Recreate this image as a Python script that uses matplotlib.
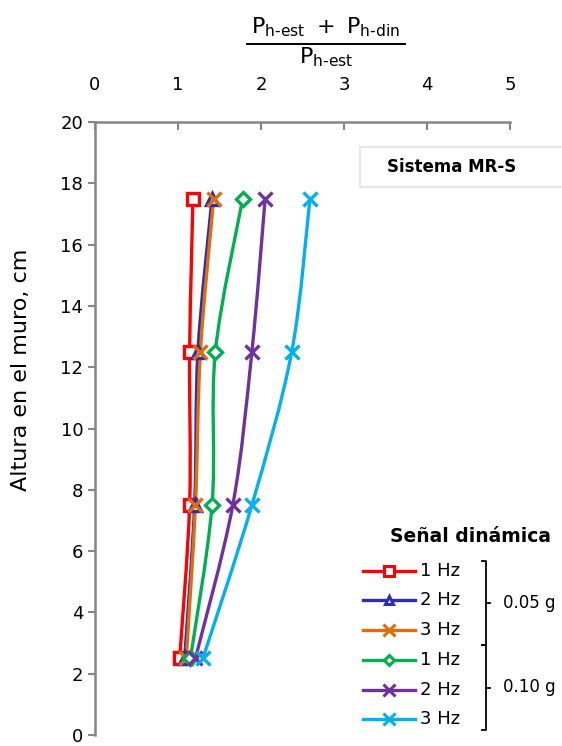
import numpy as np
import matplotlib
matplotlib.use("Agg")
import matplotlib.pyplot as plt
from matplotlib.path import Path
from matplotlib.patches import PathPatch, Rectangle
from matplotlib.lines import Line2D

heights = [2.5, 7.5, 12.5, 17.5]
r_005_1hz = [1.02, 1.14, 1.14, 1.18]
r_005_2hz = [1.08, 1.20, 1.24, 1.41]
r_005_3hz = [1.10, 1.21, 1.27, 1.43]
r_010_1hz = [1.15, 1.41, 1.45, 1.78]
r_010_2hz = [1.21, 1.66, 1.89, 2.05]
r_010_3hz = [1.30, 1.89, 2.37, 2.59]

freq_labels = ["1 Hz", "2 Hz", "3 Hz", "1 Hz", "2 Hz", "3 Hz"]
group_labels = ["0.05 g", "0.10 g"]
x_ticks = [0, 1, 2, 3, 4, 5]
y_ticks = [0, 2, 4, 6, 8, 10, 12, 14, 16, 18, 20]

series = [r_005_1hz, r_005_2hz, r_005_3hz, r_010_1hz, r_010_2hz, r_010_3hz]
colors = ["#FF0000", "#2E2EB4", "#E36C0A", "#00B050", "#7030A0", "#00B0F0"]
markers = ["s", "^", "x", "D", "x", "x"]
msizes = [9, 8, 10, 7, 10, 10]
mfcs = ["white", "white", "none", "white", "none", "none"]

W, H = 562, 746
fig = plt.figure(figsize=(W / 100, H / 100), dpi=100)
ax = fig.add_axes([95 / W, 1 - 735 / H, (510 - 95) / W, (735 - 122) / H])


def smooth_path(xs, ys):
    # Excel-like smoothed line (Catmull-Rom as cubic Bezier) through the data
    pts = np.column_stack([xs, ys]).astype(float)
    n = len(pts)
    verts = [pts[0]]
    codes = [Path.MOVETO]
    for i in range(n - 1):
        p0 = pts[i - 1] if i > 0 else pts[i]
        p1 = pts[i]
        p2 = pts[i + 1]
        p3 = pts[i + 2] if i + 2 < n else pts[i + 1]
        c1 = p1 + (p2 - p0) / 6.0
        c2 = p2 - (p3 - p1) / 6.0
        verts += [c1, c2, p2]
        codes += [Path.CURVE4] * 3
    return Path(verts, codes)


for vals, c, m, ms, fc in zip(series, colors, markers, msizes, mfcs):
    patch = PathPatch(smooth_path(vals, heights), facecolor="none", edgecolor=c, lw=2.4, zorder=2)
    ax.add_patch(patch)
    ax.plot(vals, heights, linestyle="none", marker=m, markersize=ms, markeredgewidth=2.4,
            markeredgecolor=c, markerfacecolor=fc, color=c, zorder=3)

ax.set_xlim(0, 5)
ax.set_ylim(0, 20)
ax.xaxis.tick_top()
ax.set_xticks(x_ticks)
ax.set_yticks(y_ticks)
ax.spines["right"].set_visible(False)
ax.spines["bottom"].set_visible(False)
for s in ["top", "left"]:
    ax.spines[s].set_color("#868686")
    ax.spines[s].set_linewidth(1.8)
ax.tick_params(axis="x", direction="in", length=6, width=1.5, color="#868686", labelsize=13,
               pad=20)
ax.tick_params(axis="y", direction="out", length=5, width=1.5, color="#868686", labelsize=13)
ax.set_ylabel("Altura en el muro, cm", fontsize=16)
ax.yaxis.set_label_coords(-0.155, 0.595)

# x-axis label as a fraction
fig.text(326 / W, 1 - 27 / H, r"$\mathregular{P_{h‐est}\ +\ P_{h‐din}}$", ha="center", va="center", fontsize=16)
fig.add_artist(Line2D([247 / W, 405 / W], [1 - 44 / H, 1 - 44 / H], color="black", lw=1.4))
fig.text(326 / W, 1 - 57 / H, r"$\mathregular{P_{h‐est}}$", ha="center", va="center", fontsize=16)

# "Sistema MR-S" box
fig.add_artist(Rectangle((360 / W, 1 - 187 / H), 210 / W, 40 / H, transform=fig.transFigure,
                         facecolor="white", edgecolor="#E3E3E3", lw=1.2))
fig.text(452 / W, 1 - 167 / H, "Sistema MR-S", ha="center", va="center", fontsize=12,
         fontweight="bold")

# legend
fig.text(471 / W, 1 - 536 / H, "Señal dinámica", ha="center", va="center", fontsize=13.5,
         fontweight="bold")
ys_leg = [571, 600, 630, 660, 690, 719]
for yy, lab, c, m, ms, fc in zip(ys_leg, freq_labels, colors, markers, msizes, mfcs):
    fig.add_artist(Line2D([363 / W, 415 / W], [1 - yy / H] * 2, color=c, lw=2.4))
    fig.add_artist(Line2D([389 / W], [1 - yy / H], marker=m, markersize=ms - 2, markeredgewidth=2.2,
                          markeredgecolor=c, markerfacecolor=fc, linestyle="none"))
    fig.text(420 / W, 1 - yy / H, lab, ha="left", va="center", fontsize=13)

# brackets
bx = 486
for (y0, y1), glab in zip([(561, 645), (645, 730)], group_labels):
    fig.add_artist(Line2D([(bx - 4) / W, bx / W, bx / W, (bx - 4) / W],
                          [1 - y0 / H, 1 - y0 / H, 1 - y1 / H, 1 - y1 / H], color="black", lw=1.3))
    ym = (y0 + y1) / 2
    fig.add_artist(Line2D([bx / W, (bx + 4) / W], [1 - ym / H] * 2, color="black", lw=1.3))
    fig.text(503 / W, 1 - ym / H, glab, ha="left", va="center", fontsize=12)

fig.savefig("out.png", dpi=100)
